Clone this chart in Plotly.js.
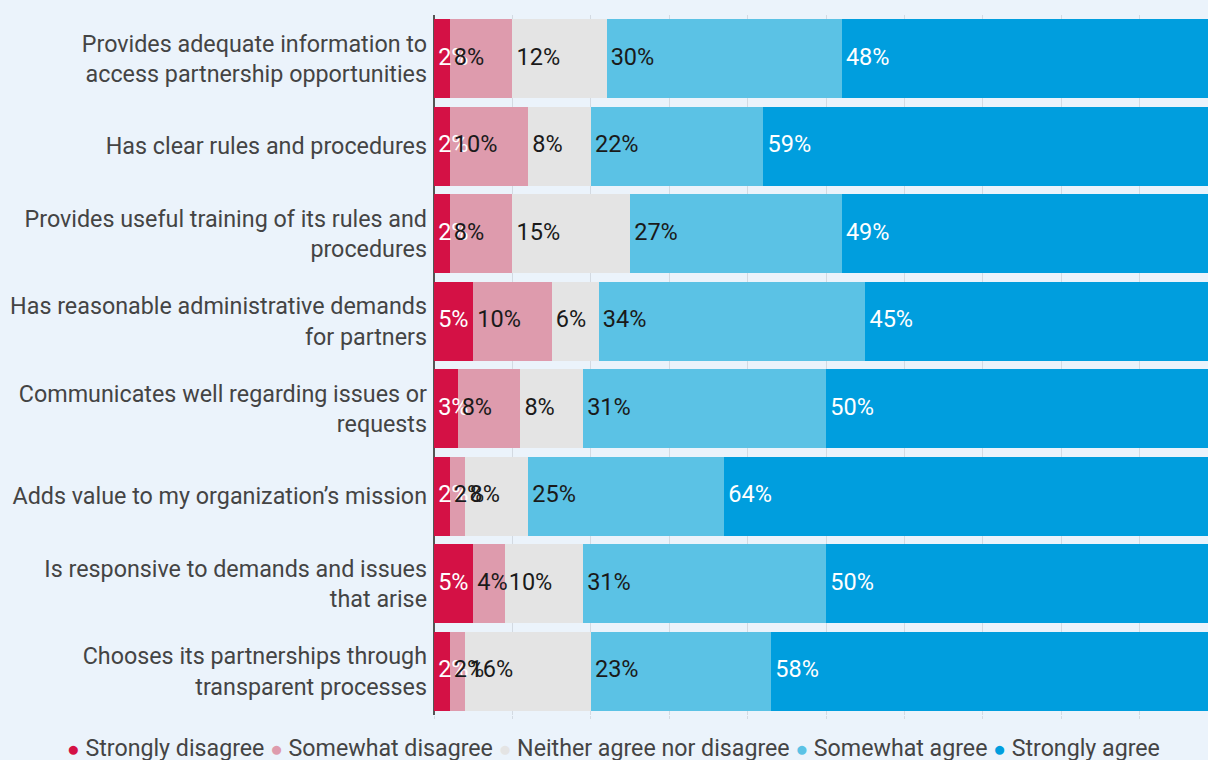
<!DOCTYPE html>
<html>
<head>
<meta charset="utf-8">
<script src="https://cdn.plot.ly/plotly-3.0.1.min.js"></script>
<style>
html,body{margin:0;padding:0;background:#EBF3FB;}
#chart{width:1208px;height:760px;}
</style>
</head>
<body>
<div id="chart"></div>
<script>
const categories = [
  "Provides adequate information to<br>access partnership opportunities",
  "Has clear rules and procedures",
  "Provides useful training of its rules and<br>procedures",
  "Has reasonable administrative demands<br>for partners",
  "Communicates well regarding issues or<br>requests",
  "Adds value to my organization’s mission",
  "Is responsive to demands and issues<br>that arise",
  "Chooses its partnerships through<br>transparent processes"
];
const seriesNames = ["Strongly disagree", "Somewhat disagree", "Neither agree nor disagree", "Somewhat agree", "Strongly agree"];
const stronglyDisagree = [2, 2, 2, 5, 3, 2, 5, 2];
const somewhatDisagree = [8, 10, 8, 10, 8, 2, 4, 2];
const neither = [12, 8, 15, 6, 8, 8, 10, 16];
const somewhatAgree = [30, 22, 27, 34, 31, 25, 31, 23];
const stronglyAgree = [48, 59, 49, 45, 50, 64, 50, 58];

const seriesValues = [stronglyDisagree, somewhatDisagree, neither, somewhatAgree, stronglyAgree];
const colors = ["#D41145", "#DE9BAD", "#E4E4E4", "#5BC2E5", "#009EDE"];
const textColors = ["#ffffff", "#1a1a1a", "#1a1a1a", "#1a1a1a", "#ffffff"];
const FONT = "Roboto, sans-serif";

const traces = [];
// bars
seriesValues.forEach((vals, i) => {
  traces.push({
    type: "bar",
    orientation: "h",
    name: seriesNames[i],
    y: categories,
    x: vals,
    marker: {color: colors[i], line: {width: 0}},
    hoverinfo: "skip",
    showlegend: false
  });
});
// labels drawn on top of all bars, starting at each segment's left edge
const starts = categories.map(() => 0);
seriesValues.forEach((vals, i) => {
  const xs = vals.map((v, k) => starts[k]);
  traces.push({
    type: "scatter",
    mode: "markers+text",
    x: xs,
    y: categories,
    text: vals.map(v => v + "%"),
    textposition: "middle right",
    marker: {size: 5, color: "rgba(0,0,0,0)"},
    textfont: {family: FONT, size: 23.5, color: textColors[i]},
    cliponaxis: false,
    hoverinfo: "skip",
    showlegend: false
  });
  vals.forEach((v, k) => { starts[k] += v; });
});

// legend as one line of text
const legendText = seriesNames.map((n, i) =>
  "<span style='color:" + colors[i] + ";font-size:21px'>●</span> " + n
).join(" ");

const layout = {
  width: 1208,
  height: 760,
  paper_bgcolor: "#EBF3FB",
  plot_bgcolor: "#EBF3FB",
  barmode: "stack",
  bargap: 0.1,
  margin: {l: 434, r: 0, t: 15, b: 45},
  font: {family: FONT, size: 23, color: "#444"},
  showlegend: false,
  xaxis: {
    range: [0, 98.7],
    dtick: 10,
    showticklabels: false,
    showgrid: true,
    gridcolor: "#D3DAE2",
    gridwidth: 1,
    ticks: "outside",
    ticklen: 3,
    tickcolor: "#D3DAE2",
    zeroline: true,
    zerolinecolor: "#555555",
    zerolinewidth: 1.5,
    fixedrange: true
  },
  yaxis: {
    autorange: "reversed",
    type: "category",
    showgrid: false,
    ticks: "",
    ticklabelstandoff: 6,
    tickfont: {family: FONT, size: 23.3, color: "#444"},
    fixedrange: true
  },
  annotations: [{
    xref: "paper",
    yref: "paper",
    x: (613 - 434) / 774,
    y: 0,
    xanchor: "center",
    yanchor: "middle",
    yshift: -33,
    showarrow: false,
    text: legendText,
    font: {family: FONT, size: 23.2, color: "#444"}
  }]
};

Plotly.newPlot("chart", traces, layout, {displayModeBar: false, staticPlot: true});
</script>
</body>
</html>
